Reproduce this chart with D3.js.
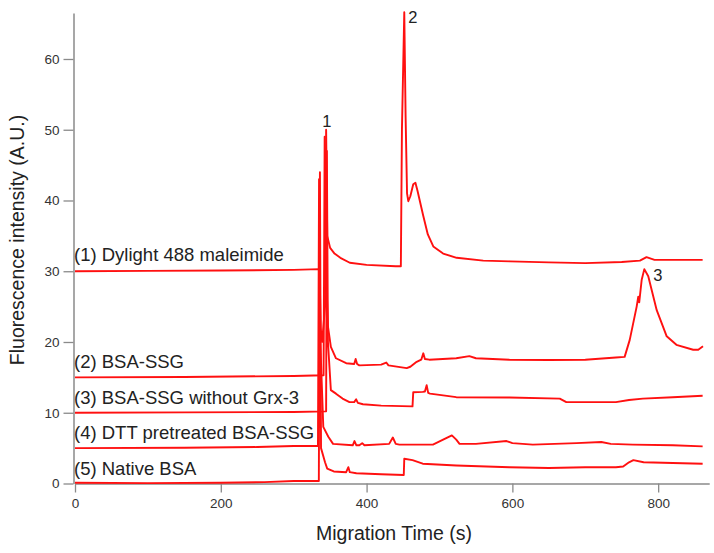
<!DOCTYPE html>
<html>
<head>
<meta charset="utf-8">
<script src="https://cdn.jsdelivr.net/npm/d3@7"></script>
<style>
  html, body { margin: 0; padding: 0; background: #fff; }
  svg { display: block; font-family: "Liberation Sans", Arial, sans-serif; }
</style>
</head>
<body>
<svg id="chart" width="714" height="553"></svg>
<script>
// ---- Data ----
const xTicks = [0, 200, 400, 600, 800];
const yTicks = [0, 10, 20, 30, 40, 50, 60];
const seriesNames = [
  "(1) Dylight 488 maleimide",
  "(2) BSA-SSG",
  "(3) BSA-SSG without Grx-3",
  "(4) DTT pretreated BSA-SSG",
  "(5) Native BSA"
];
const seriesOffsets = [30, 15, 10, 5, 0];

const trace1 = [[0,30.0],[100,30.05],[200,30.1],[300,30.2],[335.5,30.3],[337,22],[339,20],[343,25],[344.5,50],[346,35],[350,33.3],[356,32.5],[364,31.9],[377,31.2],[400,30.9],[440,30.7],[447,30.7],[448.5,50],[451.7,66.6],[453.5,52],[455.5,41],[457.2,39.9],[460,40.6],[464,42.3],[467,42.5],[470,41.3],[477.8,37.8],[484,35.2],[491.5,33.5],[505,32.5],[523.6,31.9],[560,31.5],[596.7,31.4],[650,31.25],[700,31.15],[750,31.3],[775,31.5],[784,32.0],[795,31.6],[830,31.6],[861,31.6]];
const trace2 = [[0,15.0],[150,15.05],[300,15.2],[341,15.3],[342.5,49],[344.5,30],[347,22.2],[351,19.3],[358,17.7],[372,17.0],[383,16.9],[385,17.6],[387,16.9],[390,16.7],[420,16.8],[427,17.1],[430,16.7],[455,16.3],[460,16.5],[468.7,17.2],[475,17.5],[477.8,18.4],[480,17.6],[486,17.5],[523,17.7],[541,18.0],[550,17.7],[596,17.5],[650,17.45],[700,17.5],[742,17.8],[754,17.9],[761,20.3],[770.5,25.0],[772.7,26.4],[774,25.6],[777.4,28.8],[781,30.3],[786.4,29.3],[798,24.5],[811.7,20.8],[825,19.6],[848,18.9],[855,18.9],[861.5,19.4]];
const trace3 = [[0,10.0],[150,10.05],[300,10.1],[344.5,10.2],[345.5,47],[347,20],[351,13.2],[358,12.7],[367,12.0],[376.5,11.5],[383,11.5],[385.7,11.9],[388,11.4],[395,11.2],[420,11.0],[463,10.9],[464,12.9],[477,12.95],[480,13.0],[482.4,13.9],[484.5,12.8],[487,12.7],[523,12.2],[596,12.15],[665,12.0],[674,11.5],[742,11.5],[760,11.8],[779,12.0],[820,12.2],[861,12.4]];
const trace4 = [[0,5.0],[150,5.05],[250,5.15],[300,5.3],[333.3,5.3],[334.8,43],[336.5,20],[340.6,8.0],[347.5,6.6],[354,5.6],[381,5.4],[383.4,6.0],[386,5.4],[390,5.4],[394,5.7],[397,5.4],[431,5.6],[436,6.5],[440,5.6],[445,5.5],[491,5.5],[505,6.2],[517,6.8],[523,6.2],[527.5,5.6],[550,5.6],[592,6.0],[600,5.7],[628,5.5],[688,5.7],[722,5.86],[735,5.6],[765,5.5],[820,5.4],[861,5.25]];
const trace5 = [[0,0.1],[100,0.05],[200,0.1],[260,0.2],[300,0.35],[334.5,0.35],[336,44],[337.5,5],[343,3.0],[346,2.1],[355,1.7],[372,1.6],[375,2.3],[377,1.6],[386,1.45],[420,1.3],[451,1.2],[451.7,3.5],[463,3.3],[477,2.8],[523,2.55],[596,2.3],[650,2.2],[700,2.3],[742,2.3],[752,2.4],[760,3.0],[766,3.3],[780,3.0],[820,2.9],[861,2.8]];
const traces = [trace1, trace2, trace3, trace4, trace5];

const peakLabels = ["1", "2", "3"];
const peakAt = [[344.5, 50], [451.7, 66.6], [781, 30.3]];

// ---- Layout ----
const svg = d3.select("#chart");
const x = d3.scaleLinear().domain([0, 870]).range([75, 709.2]);
const y = d3.scaleLinear().domain([0, 66.5]).range([483.5, 13]);

const axisColor = "#8a8a8a";
const textColor = "#222";

// x axis
const gx = svg.append("g")
  .attr("transform", `translate(0,${y(0)})`)
  .call(d3.axisBottom(x).tickValues(xTicks).tickSize(9).tickSizeOuter(0).tickPadding(6));
// y axis
const gy = svg.append("g")
  .attr("transform", `translate(73.5,0)`)
  .call(d3.axisLeft(y).tickValues(yTicks).tickSize(10).tickSizeOuter(0).tickPadding(4));

[gx, gy].forEach(g => {
  g.select(".domain").attr("stroke", axisColor).attr("stroke-width", 1.5);
  g.selectAll(".tick line").attr("stroke", axisColor).attr("stroke-width", 1.3);
  g.selectAll(".tick text").attr("fill", "#333").attr("font-size", 13.5)
    .attr("font-family", "'Liberation Sans', Arial, sans-serif");
});

// traces
const line = d3.line().x(d => x(d[0])).y(d => y(d[1]));
svg.append("g").selectAll("path")
  .data(traces)
  .join("path")
  .attr("d", line)
  .attr("fill", "none")
  .attr("stroke", "#ff1010")
  .attr("stroke-width", 1.9)
  .attr("stroke-linejoin", "round");

// series labels
svg.append("g").selectAll("text")
  .data(seriesNames)
  .join("text")
  .attr("x", x(0) - 1)
  .attr("y", (d, i) => y(seriesOffsets[i]) - (i === 0 ? 10 : 9))
  .attr("font-size", 18.5)
  .attr("fill", textColor)
  .text(d => d);

// peak labels
svg.append("g").selectAll("text")
  .data(peakLabels)
  .join("text")
  .attr("x", (d, i) => x(peakAt[i][0]) + [-4, 4, 9][i])
  .attr("y", (d, i) => y(peakAt[i][1]) + [-3, 11, 12][i])
  .attr("font-size", 16.5)
  .attr("fill", textColor)
  .text(d => d);

// axis titles
svg.append("text")
  .attr("x", 394).attr("y", 540)
  .attr("text-anchor", "middle")
  .attr("font-size", 19.5)
  .attr("fill", textColor)
  .text("Migration Time (s)");

svg.append("text")
  .attr("transform", "translate(24,240) rotate(-90)")
  .attr("text-anchor", "middle")
  .attr("font-size", 19.5)
  .attr("fill", textColor)
  .text("Fluorescence intensity (A.U.)");
</script>
</body>
</html>
